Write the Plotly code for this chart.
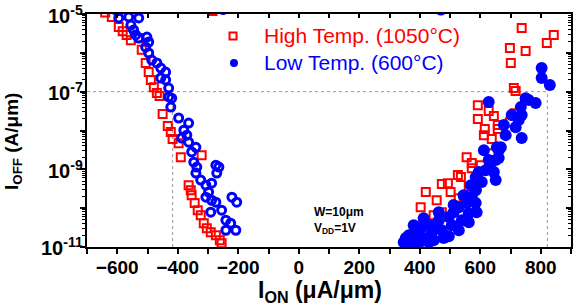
import plotly.graph_objects as go

# ---- data ----
# pMOS side (negative I_ON), high temperature (1050°C) -- open red squares
p_ion_ht = [-640, -618, -595, -582, -569, -555, -529, -519, -506, -496, -489, -479, -469, -460,
            -450, -433, -423, -417, -397, -390, -321, -364, -357, -354, -344, -334, -324,
            -314, -304, -291, -274, -261, -255, -285]
p_ioff_ht = [1.1e-5, 8.4e-6, 4.6e-6, 3.6e-6, 2.9e-6, 2.1e-6, 2.4e-6, 1.2e-6, 5.5e-7, 3.2e-7, 2.0e-7,
             1.3e-7, 9.2e-8, 7.7e-8, 2.65e-8, 1.3e-8, 9.1e-9, 6.0e-9, 4.7e-9, 2.06e-9, 2.3e-9,
             3.9e-10, 2.9e-10, 2.16e-10, 1.35e-10, 8.9e-11, 6.6e-11, 4.1e-11, 3.05e-11, 2.4e-11,
             2.0e-11, 1.5e-11, 1.25e-11, 1.2e-5]

# pMOS side, low temperature (600°C) -- open blue circles
p_ion_lt = [-595, -562, -529, -555, -546, -539, -529, -502, -496, -506, -496, -486, -469, -456,
            -440, -456, -440, -430, -430, -420, -423, -397, -364, -380, -370, -387, -364, -340,
            -354, -347, -337, -274, -340, -264, -271, -324, -307, -288, -298, -307, -288, -274,
            -221, -205, -291, -255, -241, -225, -208, -241, -600, -250]
p_ioff_lt = [7.9e-6, 8.4e-6, 7.9e-6, 5.2e-6, 3.9e-6, 2.9e-6, 2.4e-6, 2.55e-6, 1.9e-6, 1.4e-6,
             9.9e-7, 6.5e-7, 5.5e-7, 4.05e-7, 3.2e-7, 2.25e-7, 2.0e-7, 1.24e-7, 7.3e-8, 6.8e-8,
             4.0e-8, 2.1e-8, 1.55e-8, 1.02e-8, 7.6e-9, 6.4e-9, 5.0e-9, 3.7e-9, 2.8e-9, 1.53e-9,
             1.14e-9, 1.28e-9, 8.0e-10, 1.14e-9, 8.0e-10, 5.3e-10, 3.9e-10, 4.4e-10, 2.6e-10,
             1.92e-10, 1.6e-10, 1.43e-10, 1.92e-10, 1.43e-10, 7.9e-11, 8.9e-11, 4.9e-11, 4.1e-11,
             2.7e-11, 2.7e-11, 1.2e-5, 1.3e-5]

# nMOS side (positive I_ON), high temperature -- open red squares
n_ion_ht = [737, 843, 820, 698, 750, 701, 711, 717, 592, 592, 628, 645, 615, 658, 658, 612, 638,
            698, 714, 555, 572, 602, 572, 536, 635, 526, 473, 493, 502, 420, 456, 403, 446, 473,
            413, 387, 562, 588, 529, 545]
n_ioff_ht = [4.35e-6, 2.9e-6, 1.8e-6, 1.33e-6, 1.11e-6, 5.5e-7, 1.24e-7, 1.04e-7, 4.5e-8, 1.97e-8,
             3.16e-8, 2.35e-8, 1.09e-8, 1.38e-8, 1.09e-8, 7.6e-9, 6.0e-9, 1.64e-8, 2.8e-8,
             2.06e-9, 1.45e-9, 1.28e-9, 1.07e-9, 6.3e-10, 2.6e-9, 7.1e-10, 4.2e-10, 4.4e-10,
             2.6e-10, 2.6e-10, 1.6e-10, 1.06e-10, 6.6e-11, 7.9e-11, 4.35e-11, 3.4e-11, 3.5e-10,
             3.5e-10, 1.8e-10, 1.92e-10]

# nMOS side, low temperature -- filled blue circles
n_ion_lt = [803, 803, 830, 628, 750, 783, 734, 737, 727, 717, 684, 737, 655, 668, 651, 635, 645,
            618, 585, 661, 651, 585, 572, 555, 529, 512, 496, 463, 440, 407, 387, 364, 354, 374,
            407, 440, 473, 506, 539, 562, 585, 347, 364, 430, 479, 605, 470,
            397, 446, 496, 529, 562, 588, 380, 413, 463, 512, 545, 569, 595, 628, 612, 661, 678,
            704, 760]
n_ioff_lt = [4.05e-7, 2.25e-7, 1.48e-7, 5.4e-8, 6.8e-8, 5.1e-8, 4.0e-8, 2.5e-8, 1.85e-8, 1.22e-8,
             7.6e-9, 6.4e-9, 3.7e-9, 3.7e-9, 1.73e-9, 1.45e-9, 8.5e-10, 9.5e-10, 6.3e-10, 3.1e-9,
             5.3e-10, 2.9e-10, 1.92e-10, 1.35e-10, 1.06e-10, 7.9e-11, 5.9e-11, 4.9e-11, 3.65e-11,
             3.2e-11, 2.7e-11, 2.0e-11, 1.7e-11, 1.5e-11, 1.8e-11, 2.3e-11, 2.7e-11, 3.65e-11,
             4.9e-11, 7.4e-11, 1.35e-10, 1.33e-11, 1.18e-11, 1.33e-11, 1.7e-11, 4.7e-10, 1.3e-5,
             1.26e-11, 1.5e-11, 1.9e-11, 2.7e-11, 4.35e-11, 7.9e-11, 3.65e-11, 5.5e-11, 7.9e-11,
             1.2e-10, 2.16e-10, 3.9e-10, 8.5e-10, 1.73e-9, 3.1e-9, 1.95e-9, 1.38e-8, 2.5e-8, 6.1e-8]

# reference lines: I_OFF = 1e-7 and the I_ON values where the trends cross it
ioff_ref = 1e-7
ion_ref_p = -417
ion_ref_n = 822

x_range = [-700, 900]
y_range_log = [-11.0002, -4.9998]
x_tickvals = [-600, -400, -200, 0, 200, 400, 600, 800]
y_decades = [1e-11, 1e-10, 1e-9, 1e-8, 1e-7, 1e-6, 1e-5]
y_label_exps = [-11, -9, -7, -5]
y_minor = [m * d for d in [1e-11, 1e-10, 1e-9, 1e-8, 1e-7, 1e-6] for m in range(2, 10)]

legend_labels = ["High Temp. (1050°C)", "Low Temp. (600°C)"]

RED = "#ff0000"
BLUE = "#0000ff"
FONT = "Liberation Sans, Arial"

fig = go.Figure()

fig.add_trace(go.Scatter(
    x=p_ion_ht, y=p_ioff_ht, mode="markers", showlegend=False,
    marker=dict(symbol="square-open", size=8, color=RED, line=dict(width=2, color=RED))))
fig.add_trace(go.Scatter(
    x=n_ion_ht, y=n_ioff_ht, mode="markers", showlegend=False,
    marker=dict(symbol="square-open", size=8, color=RED, line=dict(width=2, color=RED))))
fig.add_trace(go.Scatter(
    x=p_ion_lt, y=p_ioff_lt, mode="markers", showlegend=False,
    marker=dict(symbol="circle-open", size=8, color=BLUE, line=dict(width=3, color=BLUE))))
fig.add_trace(go.Scatter(
    x=n_ion_lt, y=n_ioff_lt, mode="markers", showlegend=False,
    marker=dict(symbol="circle", size=12, color=BLUE, line=dict(width=0))))

# empty trace for the mirrored (inside-tick) top/right axes
fig.add_trace(go.Scatter(x=[], y=[], xaxis="x2", yaxis="y2", showlegend=False, hoverinfo="skip"))

dot = dict(color="#9a9a9a", width=1, dash="dot")
fig.add_shape(type="line", xref="x", yref="y", x0=x_range[0], x1=ion_ref_n, y0=ioff_ref, y1=ioff_ref, line=dot, layer="below")
fig.add_shape(type="line", xref="x", yref="y", x0=ion_ref_p, x1=ion_ref_p, y0=1e-11, y1=ioff_ref, line=dot, layer="below")
fig.add_shape(type="line", xref="x", yref="y", x0=ion_ref_n, x1=ion_ref_n, y0=1e-11, y1=ioff_ref, line=dot, layer="below")

# legend (symbols + coloured labels)
fig.add_shape(type="rect", xref="paper", yref="paper", xsizemode="pixel", ysizemode="pixel",
              xanchor=0.3017, yanchor=0.9056, x0=-3.5, x1=3.5, y0=-3.5, y1=3.5,
              line=dict(color=RED, width=2), fillcolor="rgba(0,0,0,0)")
fig.add_shape(type="circle", xref="paper", yref="paper", xsizemode="pixel", ysizemode="pixel",
              xanchor=0.3037, yanchor=0.7897, x0=-4, x1=4, y0=-4, y1=4,
              line=dict(color=BLUE, width=0), fillcolor=BLUE)
fig.add_annotation(x=0.3616, y=0.9056, xref="paper", yref="paper", xanchor="left", yanchor="middle",
                   text=legend_labels[0], showarrow=False, font=dict(family=FONT, size=21, color=RED))
fig.add_annotation(x=0.3616, y=0.7897, xref="paper", yref="paper", xanchor="left", yanchor="middle",
                   text=legend_labels[1], showarrow=False, font=dict(family=FONT, size=21, color=BLUE))

fig.add_annotation(
    x=43, xref="x", y=0.114, yref="paper", xanchor="left", yanchor="middle", align="left",
    text="<b>W=10μm<br>V<sub>DD</sub>=1V</b>", showarrow=False,
    font=dict(family=FONT, size=12, color="black"))

# y tick labels (power-of-ten text next to the log axis)
for e in y_label_exps:
    fig.add_annotation(x=-0.004, xref="paper", y=e, yref="y", xanchor="right", yanchor="middle",
                       text="<b>10<sup>%d</sup></b>" % e, showarrow=False,
                       font=dict(family=FONT, size=20, color="black"))

# axis titles
fig.add_annotation(x=0.482, y=-0.19, xref="paper", yref="paper", xanchor="center", yanchor="middle",
                   text="<b>I<sub>ON</sub> (μA/μm)</b>", showarrow=False,
                   font=dict(family=FONT, size=23, color="black"))
fig.add_annotation(x=-0.153, y=0.455, xref="paper", yref="paper", xanchor="center", yanchor="middle",
                   text="<b>I<sub>OFF</sub> (A/μm)</b>", showarrow=False, textangle=-90,
                   font=dict(family=FONT, size=19, color="black"))

tickfont = dict(family=FONT, size=19, color="black", weight="bold")

fig.update_layout(
    width=573, height=307,
    margin=dict(l=87, r=2, t=14, b=60, autoexpand=False),
    paper_bgcolor="white", plot_bgcolor="white",
    font=dict(family=FONT, color="black"),
    showlegend=False,
    xaxis=dict(
        range=x_range, showgrid=False, zeroline=False, automargin=False,
        showline=True, linecolor="black", linewidth=2,
        ticks="outside", ticklen=5, tickwidth=2, tickcolor="black",
        tickmode="array", tickvals=x_tickvals, tickfont=tickfont, ticklabelstandoff=-3,
        minor=dict(dtick=100, ticklen=5, tickwidth=2, tickcolor="black", ticks="outside"),
    ),
    yaxis=dict(
        type="log", range=y_range_log, showgrid=False, zeroline=False, automargin=False,
        showline=True, linecolor="black", linewidth=2,
        ticks="outside", ticklen=5, tickwidth=2, tickcolor="black",
        tickmode="array", tickvals=y_decades, showticklabels=False,
        minor=dict(tickmode="array", tickvals=y_minor, ticklen=3, tickwidth=1, tickcolor="black", ticks="outside"),
    ),
    xaxis2=dict(
        overlaying="x", side="top", anchor="y2", range=x_range, showgrid=False, zeroline=False,
        showline=True, linecolor="black", linewidth=2, showticklabels=False, automargin=False,
        ticks="inside", ticklen=4, tickwidth=2, tickcolor="black", tickmode="array", tickvals=x_tickvals,
        minor=dict(dtick=100, ticklen=4, tickwidth=2, tickcolor="black", ticks="inside"),
    ),
    yaxis2=dict(
        overlaying="y", side="right", anchor="x2", type="log", range=y_range_log, automargin=False,
        showgrid=False, zeroline=False, showline=True, linecolor="black", linewidth=2,
        showticklabels=False, ticks="inside", ticklen=5, tickwidth=2, tickcolor="black",
        tickmode="array", tickvals=y_decades,
        minor=dict(tickmode="array", tickvals=y_minor, ticklen=3, tickwidth=1, tickcolor="black", ticks="inside"),
    ),
)

fig.write_html("out.html", config={"displayModeBar": False},
               post_script="document.body.style.margin='0';document.body.style.padding='0';")
